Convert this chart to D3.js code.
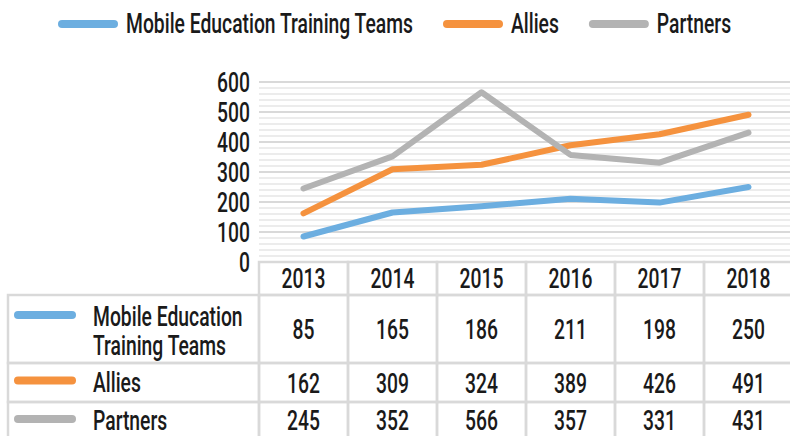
<!DOCTYPE html>
<html>
<head>
<meta charset="utf-8">
<script src="https://cdn.jsdelivr.net/npm/d3@7"></script>
<style>
  body { margin: 0; background: #fff; }
  svg text { font-family: Roboto, "Noto Sans", sans-serif; fill: #1a1a1a; font-weight: 500; }
</style>
</head>
<body>
<div id="chart"></div>
<script>
// Data
const years = ["2013", "2014", "2015", "2016", "2017", "2018"]
const seriesNames = ["Mobile Education Training Teams", "Allies", "Partners"]
const rowLabels = [["Mobile Education", "Training Teams"], ["Allies"], ["Partners"]]
const mettValues = [85, 165, 186, 211, 198, 250]
const alliesValues = [162, 309, 324, 389, 426, 491]
const partnersValues = [245, 352, 566, 357, 331, 431]
const yMax = 600

const seriesValues = [mettValues, alliesValues, partnersValues]
const colors = ["#6caee0", "#f5923e", "#b3b3b3"]

// Dimensions
const width = 790
const height = 436
const sx = 0.69         // condensed look for the text
const fontSize = 28
const gridColor = "#d9d9d9"
const minorColor = "#ececec"

const svg = d3.select("#chart")
    .append("svg")
        .attr("width", width)
        .attr("height", height)

// Scales
const xScale = d3.scaleBand()
    .domain(years)
    .range([259, 793])

const yScale = d3.scaleLinear()
    .domain([0, yMax])
    .range([262, 82])

const cx = d => xScale(d) + xScale.bandwidth() / 2

// helper for squeezed text
const addText = (parent, x, y, str, anchor) => parent.append("text")
    .attr("transform", `translate(${x},${y}) scale(${sx},1)`)
    .attr("text-anchor", anchor || "start")
    .attr("dominant-baseline", "central")
    .style("font-size", fontSize + "px")
    .text(str)

// Gridlines
const grid = svg.append("g")
grid.selectAll("line.minor")
    .data(d3.range(20, yMax + 1, 20).filter(v => v % 100 != 0))
    .join("line")
        .attr("class", "minor")
        .attr("x1", 259).attr("x2", 793)
        .attr("y1", d => yScale(d)).attr("y2", d => yScale(d))
        .attr("stroke", minorColor)
        .attr("stroke-width", 2)
grid.selectAll("line.major")
    .data(yScale.ticks(6).filter(v => v > 0))
    .join("line")
        .attr("class", "major")
        .attr("x1", 259).attr("x2", 793)
        .attr("y1", d => yScale(d)).attr("y2", d => yScale(d))
        .attr("stroke", gridColor)
        .attr("stroke-width", 2)

// Y axis
const yAxis = svg.append("g")
    .attr("transform", "translate(259,0)")
    .call(d3.axisLeft(yScale).ticks(6).tickSize(0))
yAxis.select(".domain").remove()
yAxis.selectAll("text")
    .attr("x", 0)
    .attr("dy", null)
    .attr("dominant-baseline", "central")
    .attr("transform", `translate(-9,0) scale(${sx},1)`)
    .style("font-size", fontSize + "px")
    .style("font-family", null)
    .attr("font-family", null)
    .attr("fill", "#1a1a1a")

// Lines
const lineGenerator = d3.line()
    .x((d, i) => cx(years[i]))
    .y(d => yScale(d))
svg.append("g")
    .selectAll("path")
    .data(seriesValues)
    .join("path")
        .attr("d", d => lineGenerator(d))
        .attr("fill", "none")
        .attr("stroke", (d, i) => colors[i])
        .attr("stroke-width", 6)
        .attr("stroke-linecap", "round")
        .attr("stroke-linejoin", "round")

// Data table
const table = svg.append("g")
const rowTops = [295, 363, 402, 440]
const border = { stroke: gridColor, width: 2.5 }

// header cells
years.forEach(y => {
    table.append("rect")
        .attr("x", xScale(y)).attr("y", 262)
        .attr("width", xScale.bandwidth()).attr("height", 33)
        .attr("fill", "none")
        .attr("stroke", border.stroke)
        .attr("stroke-width", border.width)
    addText(table, cx(y), 279, y, "middle")
})

// body rows
seriesValues.forEach((vals, r) => {
    const top = rowTops[r]
    const h = rowTops[r + 1] - top
    table.append("rect")
        .attr("x", 8).attr("y", top)
        .attr("width", 251).attr("height", h)
        .attr("fill", "none")
        .attr("stroke", border.stroke)
        .attr("stroke-width", border.width)
    const lines = rowLabels[r]
    const lineY = lines.length > 1 ? [top + 22, top + 51] : [top + h / 2]
    table.append("line")
        .attr("x1", 18).attr("x2", 72)
        .attr("y1", lineY[0] - 2).attr("y2", lineY[0] - 2)
        .attr("stroke", colors[r])
        .attr("stroke-width", 8)
        .attr("stroke-linecap", "round")
    lines.forEach((t, k) => addText(table, 93, lineY[k], t))

    years.forEach((y, i) => {
        table.append("rect")
            .attr("x", xScale(y)).attr("y", top)
            .attr("width", xScale.bandwidth()).attr("height", h)
            .attr("fill", "none")
            .attr("stroke", border.stroke)
            .attr("stroke-width", border.width)
        addText(table, cx(y), r < 2 ? top + h / 2 + 1 : top + h / 2, vals[i], "middle")
    })
})

// Legend
const legend = svg.append("g")
let lx = 58
seriesNames.forEach((name, i) => {
    legend.append("line")
        .attr("x1", lx + 4).attr("x2", lx + 56)
        .attr("y1", 24).attr("y2", 24)
        .attr("stroke", colors[i])
        .attr("stroke-width", 8)
        .attr("stroke-linecap", "round")
    const t = addText(legend, lx + 68, 24, name)
    const w = t.node().getComputedTextLength() * sx
    lx = lx + 68 + w + 30
})
</script>
</body>
</html>
